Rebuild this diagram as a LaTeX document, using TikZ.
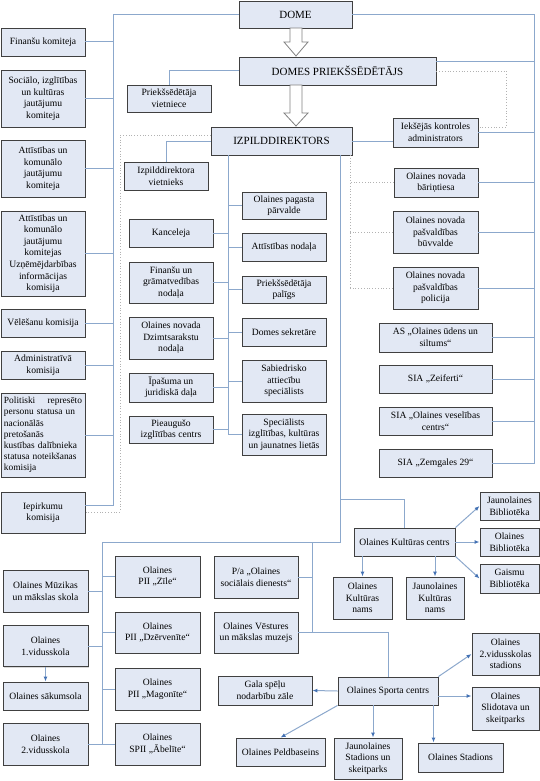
\documentclass[tikz,border=0pt]{standalone}
\usepackage{fontspec}
\setmainfont{Liberation Serif}
\usetikzlibrary{arrows.meta, shadows}
\definecolor{boxfill}{RGB}{226,232,244}
\definecolor{boxline}{RGB}{64,64,64}
\definecolor{wireblue}{RGB}{140,168,204}
\definecolor{tipblue}{RGB}{68,114,180}

\begin{document}
\begin{tikzpicture}[x=1pt, y=-1pt,
  box/.style 2 args={draw=boxline, fill=boxfill, line width=0.9pt, minimum width=#1pt, minimum height=#2pt,
    inner sep=1pt, align=center, font=\rmfamily\fontsize{9.6}{11.6}\selectfont,
    drop shadow={shadow xshift=1pt, shadow yshift=-1pt, opacity=0.3}},
  head/.style={font=\rmfamily\fontsize{11}{13}\selectfont},
  wire/.style={draw=wireblue, line width=1pt},
  dotline/.style={draw=gray!60, line width=0.8pt, dotted},
  link/.style={wire, -{Latex[length=5pt, width=4pt, color=tipblue]}},
  hollow/.style={draw=gray, fill=white, line width=0.8pt}]
\useasboundingbox (0,0) rectangle (540,781);

% Top of the chart
\node[box={113}{27}, head] (dome) at (295.5,14.5) {DOME};
\node[box={197}{28}, head] (dpr) at (337.5,71) {DOMES PRIEKŠSĒDĒTĀJS};
\node[box={141}{28}, head] (izp) at (281.5,141) {IZPILDDIREKTORS};
\node[box={84}{27}] (pviet) at (169,98.5) {Priekšsēdētāja\\vietniece};
\node[box={84}{28}] (iviet) at (166,176) {Izpilddirektora\\vietnieks};

\draw[hollow] (290,28) -- (302,28) -- (302,42) -- (308,42) -- (296,56) -- (284,42) -- (290,42) -- cycle;
\draw[hollow] (290,85) -- (302,85) -- (302,113) -- (308,113) -- (296,126) -- (284,113) -- (290,113) -- cycle;

% Committees
\node[box={84}{28}] (fin) at (43,42) {Finanšu komiteja};
\node[box={84}{57}] (soc) at (43,98.5) {Sociālo, izglītības\\un kultūras\\jautājumu\\komiteja};
\node[box={84}{57}] (att) at (43,168.5) {Attīstības un\\komunālo\\jautājumu\\komiteja};
\node[box={84}{85}] (uzn) at (43,253.5) {Attīstības un\\komunālo\\jautājumu\\komitejas\\Uzņēmējdarbības\\informācijas\\komisija};
\node[box={84}{28}] (vel) at (43,323) {Vēlēšanu komisija};
\node[box={84}{28}] (adm) at (43,365) {Administratīvā\\komisija};
\node[box={84}{84}, text width=78pt, align=left, font=\rmfamily\fontsize{9.4}{11.2}\selectfont] (pol) at (43,435) {Politiski\hfill represēto\\personu statusa un\\nacionālās\\pretošanās\\kustības dalībnieka\\statusa noteikšanas\\komisija};
\node[box={84}{41}] (iep) at (43,512.5) {Iepirkumu\\komisija};

% Right column
\node[box={85}{29}] (ieks) at (435.5,132.5) {Iekšējās kontroles\\administrators};
\node[box={84}{29}] (barin) at (436,182.5) {Olaines novada\\bāriņtiesa};
\node[box={85}{42}] (buvv) at (435.5,232) {Olaines novada\\pašvaldības\\būvvalde};
\node[box={85}{42}] (polic) at (435.5,288) {Olaines novada\\pašvaldības\\policija};
\node[box={113}{29}] (udens) at (435.5,337.5) {AS „Olaines ūdens un\\siltums“};
\node[box={113}{28}] (zeif) at (435.5,379) {SIA „Zeiferti“};
\node[box={113}{28}] (vesel) at (435.5,421) {SIA „Olaines veselības\\centrs“};
\node[box={113}{28}] (zemg) at (435.5,463) {SIA „Zemgales 29“};

% Under the executive director
\node[box={84}{28}] (kanc) at (171,233) {Kanceleja};
\node[box={84}{41}] (fing) at (171,282.5) {Finanšu un\\grāmatvedības\\nodaļa};
\node[box={84}{42}] (dzim) at (171,338) {Olaines novada\\Dzimtsarakstu\\nodaļa};
\node[box={84}{29}] (ipas) at (171,387.5) {Īpašuma un\\juridiskā daļa};
\node[box={84}{27}] (pieaug) at (171,429.5) {Pieaugušo\\izglītības centrs};
\node[box={84}{27}] (pag) at (284,205.5) {Olaines pagasta\\pārvalde};
\node[box={84}{28}] (attn) at (284,247) {Attīstības nodaļa};
\node[box={84}{27}] (ppal) at (284,289.5) {Priekšsēdētāja\\palīgs};
\node[box={84}{28}] (dsek) at (284,332) {Domes sekretāre};
\node[box={84}{42}] (sab) at (284,381) {Sabiedrisko\\attiecību\\speciālists};
\node[box={84}{41}] (spec) at (284,434.5) {Speciālists\\izglītības, kultūras\\un jaunatnes lietās};

% Schools and institutions
\node[box={85}{42}] (muz) at (45.5,591) {Olaines Mūzikas\\un mākslas skola};
\node[box={85}{41}] (vid1) at (45.5,646) {Olaines\\1.vidusskola};
\node[box={85}{28}] (sak) at (45.5,696) {Olaines sākumsola};
\node[box={85}{42}] (vid2) at (45.5,744) {Olaines\\2.vidusskola};
\node[box={85}{41}] (zile) at (157.5,576.5) {Olaines\\PII „Zīle“};
\node[box={85}{41}] (dzer) at (157.5,632.5) {Olaines\\PII „Dzērvenīte“};
\node[box={85}{42}] (mag) at (157.5,689) {Olaines\\PII „Magonīte“};
\node[box={85}{42}] (abel) at (157.5,744) {Olaines\\SPII „Ābelīte“};
\node[box={84}{42}] (pa) at (256,577) {P/a „Olaines\\sociālais dienests“};
\node[box={84}{41}] (vest) at (256,632.5) {Olaines Vēstures\\un mākslas muzejs};

% Culture centre
\node[box={101}{28}] (kc) at (404.5,542) {Olaines Kultūras centrs};
\node[box={59}{42}] (kn) at (362.5,598) {Olaines\\Kultūras\\nams};
\node[box={58}{42}] (jkn) at (435,598) {Jaunolaines\\Kultūras\\nams};
\node[box={59}{28}] (jbib) at (509.5,506) {Jaunolaines\\Bibliotēka};
\node[box={59}{28}] (obib) at (509.5,542) {Olaines\\Bibliotēka};
\node[box={59}{29}] (gbib) at (509.5,578.5) {Gaismu\\Bibliotēka};

% Sports centre
\node[box={100}{28}] (sc) at (388,691) {Olaines Sporta centrs};
\node[box={94}{29}] (gala) at (265,690.5) {Gala spēļu\\nodarbību zāle};
\node[box={89}{28}] (peld) at (280.5,752) {Olaines Peldbaseins};
\node[box={68}{41}] (jst) at (368,758.5) {Jaunolaines\\Stadions un\\skeitparks};
\node[box={85}{29}] (ost) at (460.5,757.5) {Olaines Stadions};
\node[box={67}{42}] (st2) at (505.5,654) {Olaines\\2.vidusskolas\\stadions};
\node[box={67}{43}] (slid) at (505.5,708.5) {Olaines\\Slidotava un\\skeitparks};

% Buses
\coordinate (lbus) at (113,14.5);
\coordinate (rbus) at (534,14.5);
\coordinate (ibus) at (228,155);
\coordinate (dbus) at (350,155);
\coordinate (sbus) at (340,155);
\coordinate (pbus) at (102,542);
\coordinate (mbus) at (312,542);

\draw[wire] (dome.west) -- (lbus) -- (lbus |- 0,505) -- (iep.east |- 0,505);
\foreach \n in {fin,soc,att,uzn,vel,adm,pol}
  \draw[wire] (\n.east) -- (\n.east -| lbus);

\draw[wire] (dome.east) -- (rbus) -- (rbus |- zemg.east) -- (zemg.east);
\draw[wire] (dpr.east |- 0,62) -- (rbus |- 0,62);
\foreach \n in {ieks,barin,buvv,polic,udens,zeif,vesel}
  \draw[wire] (\n.east) -- (\n.east -| rbus);

\draw[wire] (dpr.west) -| (pviet.north);
\draw[wire] (izp.west) -| (iviet.north);
\draw[wire] (izp.east) -- (izp.east -| ieks.west);

\draw[wire] (ibus) -- (ibus |- spec.west);
\foreach \n in {kanc,fing,dzim,ipas,pieaug}
  \draw[wire] (\n.east) -- (\n.east -| ibus);
\foreach \n in {pag,attn,ppal,dsek,sab,spec}
  \draw[wire] (\n.west) -- (\n.west -| ibus);

% Dotted links
\draw[dotline] (izp.west |- 0,135) -- (120,135) -- (120,512) -- (iep.east |- 0,512);
\draw[dotline] (dpr.east) -- (506,71) -- (506,127) -- (ieks.east |- 0,127);
\draw[dotline] (dbus) -- (dbus |- polic.west);
\foreach \n in {barin,buvv,polic}
  \draw[dotline] (\n.west) -- (\n.west -| dbus);

% Lower part
\draw[wire] (sbus) -- (sbus |- pbus) -- (pbus) -- (pbus |- vid2.east);
\draw[wire] (340,499) -- (kc.north |- 0,499) -- (kc.north);
\foreach \n in {muz,vid1,vid2}
  \draw[wire] (\n.east) -- (\n.east -| pbus);
\foreach \n in {zile,dzer,mag,abel}
  \draw[wire] (\n.west) -- (\n.west -| pbus);
\draw[wire] (mbus) -- (mbus |- vest.east);
\draw[wire] (pa.east) -- (pa.east -| mbus);
\draw[wire] (vest.east) -| (sc.north);

% Arrows
\draw[link] (vid1.south) -- (sak.north);
\draw[link] (kn.north |- kc.south) -- (kn.north);
\draw[link] (jkn.north |- kc.south) -- (jkn.north);
\draw[link] (kc.north east) -- (jbib.west);
\draw[link] (kc.east) -- (obib.west);
\draw[link] (kc.south east) -- (gbib.west);
\draw[link] (sc.west) -- (gala.east);
\draw[link] (sc.south west) -- (peld.north);
\draw[link] ([xshift=5pt]jst.north |- sc.south) -- ([xshift=5pt]jst.north);
\draw[link] ([xshift=-27pt]ost.north |- sc.south) -- ([xshift=-27pt]ost.north);
\draw[link] (sc.north east) -- (st2.west);
\draw[link] ([yshift=-5pt]sc.east) -- ([yshift=-5pt]sc.east -| slid.west);
\end{tikzpicture}
\end{document}
